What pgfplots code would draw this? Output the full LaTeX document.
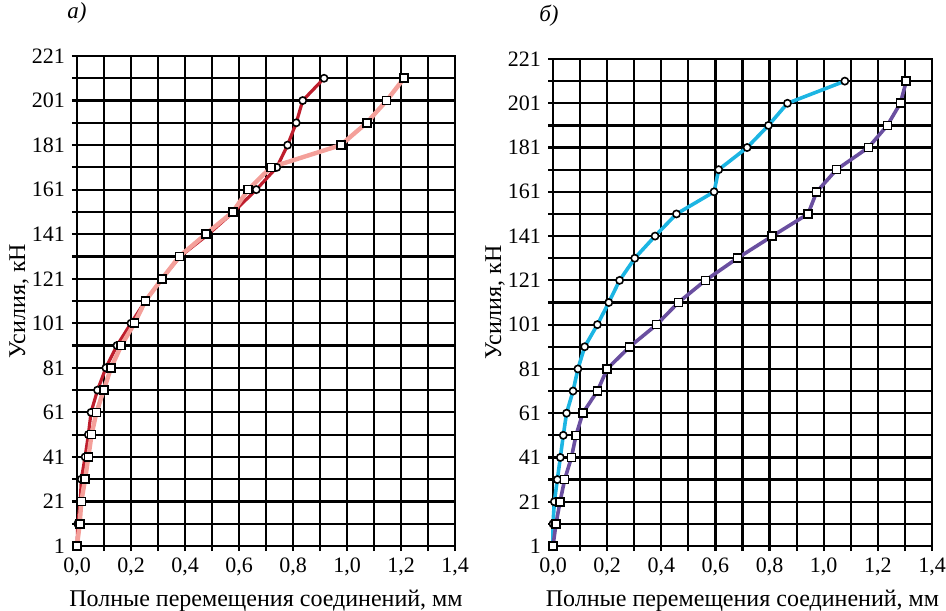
\documentclass[border=0pt]{standalone}
\usepackage{fontspec}
\setmainfont{Liberation Serif}
\usepackage{pgfplots}
\pgfplotsset{compat=1.18}
\definecolor{dred}{HTML}{BE1E2D}
\definecolor{lpink}{HTML}{F4A09A}
\definecolor{cyanl}{HTML}{1CB5E3}
\definecolor{purp}{HTML}{6A4FA0}
\pgfplotsset{
  myaxis/.style={
    scale only axis, width=189pt, height=245pt,
    xmin=0, xmax=1.4, ymin=1, ymax=221,
    xtick={0,0.2,0.4,0.6,0.8,1.0,1.2,1.4},
    xticklabels={{0,0},{0,2},{0,4},{0,6},{0,8},{1,0},{1,2},{1,4}},
    minor xtick={0.1,0.3,0.5,0.7,0.9,1.1,1.3},
    ytick={1,21,41,61,81,101,121,141,161,181,201,221},
    minor ytick={11,31,51,71,91,111,131,151,171,191,211},
    grid=both,
    major grid style={black,line width=1.1pt},
    minor grid style={black,line width=1.1pt},
    axis line style={black,line width=1.1pt},
    tick align=outside, tick pos=left,
    major tick length=2.5pt, minor tick length=2.5pt,
    every tick/.style={black,line width=1.1pt},
    minor tick style={black,line width=1.1pt},
    /pgf/number format/assume math mode=true,
    tick label style={font=\fontsize{11}{13}\selectfont},
    xlabel={Полные перемещения соединений, мм},
    ylabel={Усилия, кН},
    every axis y label/.style={at={(axis description cs:0,0.5)}, xshift=-29pt, rotate=90, anchor=center, font=\fontsize{12}{14}\selectfont},
    every axis x label/.style={at={(axis description cs:0.5,0)}, anchor=base, yshift=-30pt, font=\fontsize{12}{14}\selectfont},
    title style={at={(axis description cs:0,1)}, anchor=center, yshift=15.5pt, font=\fontsize{11.5}{13}\selectfont\itshape},
    clip=false,
  },
  circ/.style={mark=*, mark size=1.8pt, mark options={fill=white, draw=black, line width=0.8pt, solid}},
  sq/.style={mark=square*, mark size=2pt, mark options={fill=white, draw=black, line width=0.8pt, solid}},
}
\begin{document}
\begin{tikzpicture}
\begin{axis}[myaxis, at={(0pt,0pt)}, anchor=south west, title={а)}]
\addplot[dred, line width=1.6pt, circ] coordinates {
(0,1) (0.003,11) (0.012,21) (0.016,31) (0.030,41) (0.042,51) (0.052,61) (0.076,71) (0.107,81) (0.148,91) (0.200,101) (0.253,111) (0.315,121) (0.382,131) (0.487,141) (0.580,151) (0.664,161) (0.740,171) (0.780,181) (0.812,191) (0.836,201) (0.915,211)
};
\addplot[lpink, line width=2.2pt, sq] coordinates {
(0,1) (0.010,11) (0.016,21) (0.030,31) (0.042,41) (0.054,51) (0.072,61) (0.099,71) (0.126,81) (0.164,91) (0.213,101) (0.253,111) (0.315,121) (0.379,131) (0.477,141) (0.577,151) (0.634,161) (0.718,171) (0.977,181) (1.073,191) (1.147,201) (1.211,211)
};
\end{axis}
\begin{axis}[myaxis, at={(238pt,0pt)}, anchor=south west, width=189.5pt, height=243.5pt, title={б)}, title style={xshift=-2pt}]
\addplot[cyanl, line width=1.8pt, circ] coordinates {
(0,1) (0.0,11) (0.005,21) (0.016,31) (0.027,41) (0.038,51) (0.050,61) (0.074,71) (0.092,81) (0.117,91) (0.164,101) (0.206,111) (0.246,121) (0.302,131) (0.377,141) (0.456,151) (0.595,161) (0.612,171) (0.717,181) (0.796,191) (0.866,201) (1.078,211)
};
\addplot[purp, line width=1.8pt, sq] coordinates {
(0,1) (0.011,11) (0.026,21) (0.043,31) (0.068,41) (0.085,51) (0.110,61) (0.164,71) (0.200,81) (0.283,91) (0.383,101) (0.463,111) (0.563,121) (0.681,131) (0.810,141) (0.942,151) (0.974,161) (1.047,171) (1.165,181) (1.235,191) (1.283,201) (1.305,211)
};
\end{axis}
\pgfresetboundingbox
\useasboundingbox (-38.5pt,-32pt) rectangle (434.5pt,273pt);
\end{tikzpicture}
\end{document}
